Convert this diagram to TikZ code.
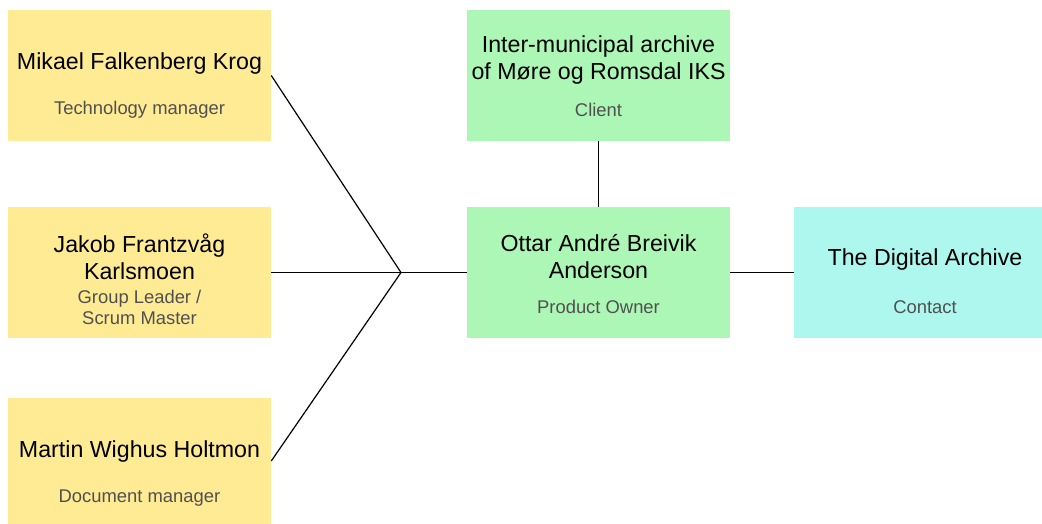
\documentclass[tikz,border=0pt]{standalone}
\usepackage{fontspec}
\setmainfont{Liberation Sans}
\usetikzlibrary{positioning}
\definecolor{boxyellow}{HTML}{FFEB94}
\definecolor{boxgreen}{HTML}{ADF7B6}
\definecolor{boxcyan}{HTML}{ADF7EE}
\definecolor{rolegray}{HTML}{505050}
\tikzset{
  box/.style={inner sep=0pt, minimum width=197.25pt, minimum height=98.25pt},
  person/.style={align=center, inner sep=0pt, font=\fontsize{17.4}{20.25}\selectfont},
  duty/.style={align=center, inner sep=0pt, text=rolegray, font=\fontsize{13.8}{15.75}\selectfont},
  link/.style={line width=0.9pt},
}
\begin{document}
\begin{tikzpicture}[x=0.75pt, y=-0.75pt]
	\useasboundingbox (0,0) rectangle (1042,524);
	% Draw the boxes
	\node[box, fill=boxyellow] (krog) at (139.5,75.5) {};
	\node[box, fill=boxyellow] (karlsmoen) at (139.5,272.5) {};
	\node[box, fill=boxyellow, minimum height=94.5pt] (holtmon) at (139.5,461) {};
	\node[box, fill=boxgreen] (client) at (598.5,75.5) {};
	\node[box, fill=boxgreen] (owner) at (598.5,272.5) {};
	\node[box, fill=boxcyan, minimum width=186pt] (contact) at (918,272.5) {};
	
	% Names and roles
	\node[person] (krog-name) at (139.5,64) {Mikael Falkenberg Krog};
	\node[duty] (krog-role) at (139.5,110) {Technology manager};
	\node[person] (karlsmoen-name) at (139.5,256.5) {Jakob Frantzvåg\\Karlsmoen};
	\node[duty] (karlsmoen-role) at (139.5,307) {Group Leader /\\Scrum Master};
	\node[person] (holtmon-name) at (139.5,451) {Martin Wighus Holtmon};
	\node[duty] (holtmon-role) at (139.5,498.5) {Document manager};
	\node[person] (client-name) at (598.5,60) {Inter-municipal archive\\of Møre og Romsdal IKS};
	\node[duty] (client-role) at (598.5,110) {Client};
	\node[person] (owner-name) at (598.5,256.5) {Ottar André Breivik\\Anderson};
	\node[duty] (owner-role) at (598.5,307) {Product Owner};
	\node[person] (contact-name) at (925,260) {The Digital Archive};
	\node[duty] (contact-role) at (925,307) {Contact};
	
	% Connectors
	\coordinate (join) at (401,272.5);
	\foreach \n in {krog, karlsmoen, holtmon}
		\draw[link] (\n.east) -- (join);
	\draw[link] (join) -- (owner.west);
	\draw[link] (client.south) -- (owner.north);
	\draw[link] (owner.east) -- (contact.west);
\end{tikzpicture}
\end{document}
